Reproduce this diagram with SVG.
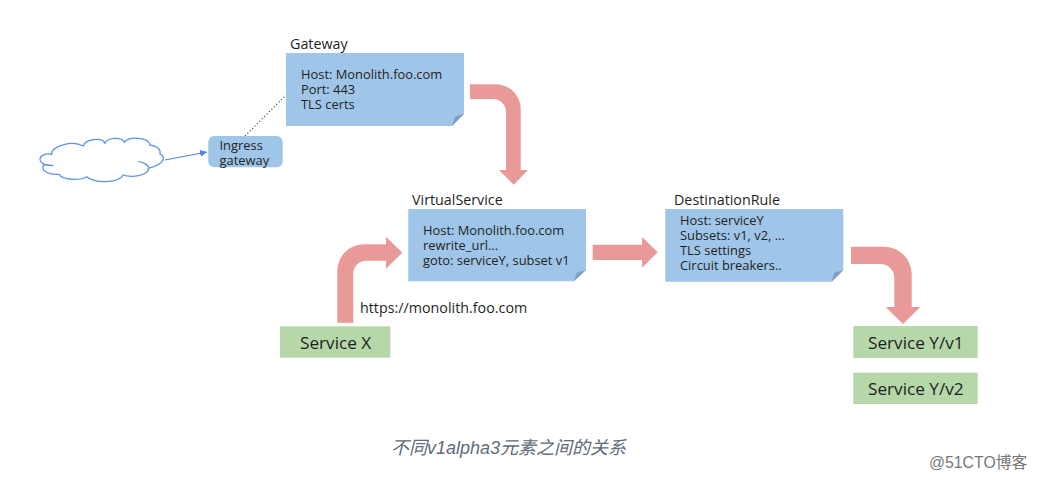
<svg xmlns="http://www.w3.org/2000/svg" width="1037" height="481" viewBox="0 0 1037 481">
<style>
text{font-family:"Open Sans","Noto Sans",sans-serif;fill:#1f1f1f}
.n{font-size:12.9px}
.t{font-size:14.300px}
.s{font-size:17.200px}
.note{fill:#9fc5e8}
.fold{fill:#7f9fc3}
.svc{fill:#b6d7a8}
.big{fill:#ea9999}
.cl{fill:none;stroke:#5b93e8;stroke-width:1.3}
</style>
<defs>
<marker id="ah" markerUnits="userSpaceOnUse" markerWidth="8" markerHeight="8" refX="7" refY="3.5" orient="auto"><path d="M0 0L7 3.5L0 7Z" fill="#4a86e8"/></marker>
</defs>
<rect width="1037" height="481" fill="#fff"/>
<g id="connectors">
<path class="big" d="M470 84.300H496A24.700 24.700 0 0 1 520.700 109V170H528L513.700 184.700L499 170H506V112A13 13 0 0 0 493 99H470Z"/>
<path class="big" d="M337.300 322.700V271A26.700 26.700 0 0 1 364 244.300H386V236.700L402.300 252.700L386 268.700V260.700H366A12.700 12.700 0 0 0 353.300 273.400V322.700Z"/>
<path class="big" d="M592.700 244.700H642V237L657.700 252.300L642 267.700V260H592.700Z"/>
<path class="big" d="M851 246.700H884A27.700 27.700 0 0 1 911.700 274.400V307H920.300L903 324L885.700 307H894.300V278A14 14 0 0 0 880.300 264H851Z"/>
<path d="M165 160L207 152" fill="none" stroke="#4a86e8" stroke-width="1.2" marker-end="url(#ah)"/>
<path d="M245 136L291.700 89.300" fill="none" stroke="#444" stroke-width="1.1" stroke-dasharray="1.2 2.200"/>
</g>
<g id="cloud">
<path class="cl" d="M53.300 165.700C46 166 40 163 40 159C40 155.500 46 153 51.700 154.300C50 146 73 140 83.300 146C85 139 102 137 105 143.300C108 137 122 137 124.300 142.300C129 136 149 137 150 145C157 146 161 149 160 154C165 156 167 163 148.300 168.300"/>
<path class="cl" d="M138.300 161.700C145 162 150 167 148.300 168.300C150 175 132 178 123.300 175C118 184 94 183 86.700 176.700C80 181 62 180 59 174.300C50 175 41 172 43.300 165C46 164.500 50 165 53.300 165.700"/>
</g>
<g id="ingress">
<rect x="208.300" y="136" width="74.400" height="31.300" rx="6" fill="#9fc5e8"/>
<text class="n" x="219.500" y="150">Ingress</text>
<text class="n" x="219.500" y="165">gateway</text>
</g>
<g id="gateway">
<text class="t" x="290" y="49">Gateway</text>
<path class="note" d="M286 53H464V114L452 126H286Z"/>
<path class="fold" d="M464 114L452 126L455 116.500Z"/>
<text class="n" x="301" y="79">Host: Monolith.foo.com</text>
<text class="n" x="301" y="94">Port: 443</text>
<text class="n" x="301" y="109">TLS certs</text>
</g>
<g id="virtualservice">
<text class="t" x="412" y="205">VirtualService</text>
<path class="note" d="M408.300 209H586V270L574 281.300H408.300Z"/>
<path class="fold" d="M586 270L574 281.300L577 272.500Z"/>
<text class="n" x="423" y="235">Host: Monolith.foo.com</text>
<text class="n" x="423" y="250">rewrite_url...</text>
<text class="n" x="423" y="265">goto: serviceY, subset v1</text>
</g>
<g id="destinationrule">
<text class="t" x="674" y="205">DestinationRule</text>
<path class="note" d="M665.300 209H843.300V270.300L831.700 281.700H665.300Z"/>
<path class="fold" d="M843.300 270.300L831.700 281.700L834.500 272.500Z"/>
<text class="n" x="680" y="225">Host: serviceY</text>
<text class="n" x="680" y="240">Subsets: v1, v2, ...</text>
<text class="n" x="680" y="255">TLS settings</text>
<text class="n" x="680" y="270">Circuit breakers..</text>
</g>
<g id="url-label"><text class="t" x="360" y="313">https://monolith.foo.com</text></g>
<g id="service-x">
<rect class="svc" x="280" y="326.300" width="110.300" height="31.400"/>
<text class="s" x="300" y="348.500">Service X</text>
</g>
<g id="service-y-v1">
<rect class="svc" x="853.300" y="326" width="124.400" height="32"/>
<text class="s" x="868" y="348.500">Service Y/v1</text>
</g>
<g id="service-y-v2">
<rect class="svc" x="853.300" y="372.700" width="124.400" height="31.300"/>
<text class="s" x="868" y="394.500">Service Y/v2</text>
</g>
<text x="391" y="454" font-size="18" font-style="italic" style="font-family:'Liberation Sans','Noto Sans CJK SC',sans-serif;fill:#5f6b75">不同v1alpha3元素之间的关系</text>
<text x="929" y="468" font-size="15.800" style="font-family:'Liberation Sans','Noto Sans CJK SC',sans-serif;fill:#777">@51CTO博客</text>
</svg>
